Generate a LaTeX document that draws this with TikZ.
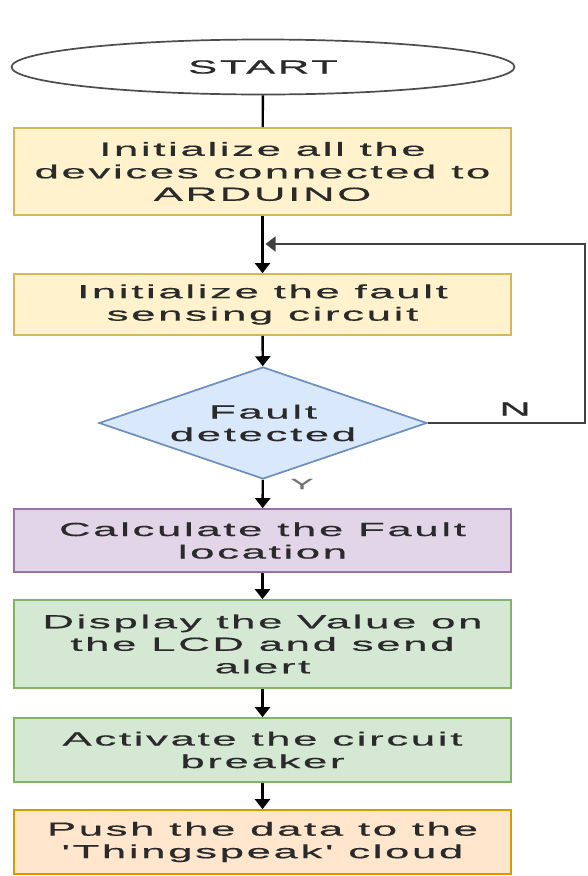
\documentclass[tikz,border=0pt]{standalone}
\usepackage{fontspec}
\usepackage{tikz}
\usetikzlibrary{arrows.meta,shapes.geometric}
\newfontfamily\flowfont{Liberation Sans}[FakeStretch=2.3,LetterSpace=14,FakeBold=0.6]
\definecolor{txtgray}{HTML}{2A2A2A}
\definecolor{ylwfill}{HTML}{FFF2CC}
\definecolor{ylwline}{HTML}{D6B656}
\definecolor{bluefill}{HTML}{DAE8FC}
\definecolor{blueline}{HTML}{6C8EBF}
\definecolor{purpfill}{HTML}{E1D5E7}
\definecolor{purpline}{HTML}{9673A6}
\definecolor{grnfill}{HTML}{D5E8D4}
\definecolor{grnline}{HTML}{82B366}
\definecolor{orgfill}{HTML}{FFE6CC}
\definecolor{orgline}{HTML}{D79B00}

\begin{document}
\begin{tikzpicture}[x=1pt,y=-1pt,
		txt/.style={text=txtgray,font=\flowfont\fontsize{19}{22.5}\selectfont},
		procbox/.style={txt,draw,line width=1.7pt,minimum width=497pt,inner sep=0pt,align=center},
		flow/.style={line width=2.4pt,-{Triangle[length=10pt,width=15pt]}}]
		\useasboundingbox (0,0) rectangle (587,876);
		% start and decision
		\node[txt,ellipse,draw=black!70,line width=1.7pt,fill=white,minimum width=503pt,minimum height=55pt,inner sep=0pt] (start) at (263,67) {START};
		\node[txt,diamond,aspect=3,draw=blueline,fill=bluefill,line width=1.7pt,minimum width=328pt,minimum height=112pt,inner sep=0pt,align=center] (fault) at (263,423) {Fault\\detected};
		% process boxes
		\node[procbox,draw=ylwline,fill=ylwfill,minimum height=87pt] (init) at (262.5,171.5) {Initialize all the\\devices connected to\\ARDUINO};
		\node[procbox,draw=ylwline,fill=ylwfill,minimum height=61pt] (sense) at (262.5,304.5) {Initialize the fault\\sensing circuit};
		\node[procbox,draw=purpline,fill=purpfill,minimum height=63pt] (calc) at (262.5,540.5) {Calculate the Fault\\location};
		\node[procbox,draw=grnline,fill=grnfill,minimum height=88pt] (lcd) at (262.5,644) {Display the Value on\\the LCD and send\\alert};
		\node[procbox,draw=grnline,fill=grnfill,minimum height=64pt] (brk) at (262.5,750) {Activate the circuit\\breaker};
		\node[procbox,draw=orgline,fill=orgfill,minimum height=64pt] (push) at (262.5,842) {Push the data to the\\'Thingspeak' cloud};
		% connectors
		\coordinate (merge) at (265.5,244);
		\coordinate (loop) at (585,423);
		\draw[line width=2.4pt] (start) -- (init);
		\draw[flow] (init) -- (sense);
		\draw[flow] (sense) -- (fault);
		\draw[flow] (fault) -- (calc);
		\draw[flow] (calc) -- (lcd);
		\draw[flow] (lcd) -- (brk);
		\draw[flow] (brk) -- (push);
		\draw[flow,line width=1.4pt,draw=black!75] (fault.east) -- (loop) |- (merge);
		% branch labels
		\node[txt] (no) at (515,409) {N};
		\node[txt,text=black!55,font=\flowfont\fontsize{15}{18}\selectfont] (yes) at (302,484) {Y};
\end{tikzpicture}
\end{document}
